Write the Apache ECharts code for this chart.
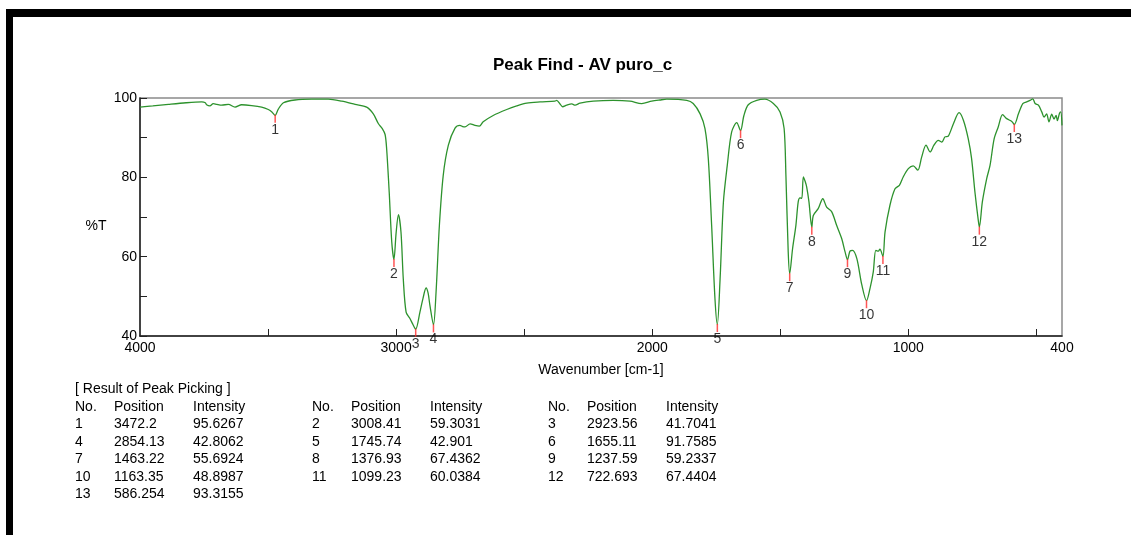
<!DOCTYPE html>
<head>
    <meta charset="utf-8">
    <title>Peak Find</title>
    <style>
        body { margin: 0; background: #fff; }
        #chart { width: 1131px; height: 535px; }
    </style>
</head>
<body>
    <div id="chart"></div>
    <script src="https://cdn.jsdelivr.net/npm/echarts@6/dist/echarts.min.js"></script>
    <script>
        // spectrum (wavenumber cm-1 / %T)
        var wavenumber = [4000, 3950, 3889, 3820, 3759, 3745, 3740, 3727, 3714, 3700, 3681, 3655, 3629, 3603, 3564, 3525, 3499, 3485, 3472.2, 3460, 3440, 3395, 3330, 3265, 3212, 3160, 3115, 3089, 3069, 3054, 3043, 3037, 3027, 3017, 3008.41, 3000, 2991, 2981, 2972, 2961, 2946, 2935, 2923.56, 2907, 2895, 2883, 2875, 2868, 2854.13, 2844, 2831, 2816, 2796, 2770, 2751, 2740, 2731, 2711, 2692, 2675, 2660, 2621, 2568, 2529, 2490, 2438, 2380, 2373, 2360, 2350, 2334, 2314, 2301, 2282, 2230, 2152, 2087, 2041, 2002, 1970, 1943, 1865, 1840, 1813, 1794, 1781, 1768, 1755, 1745.74, 1735, 1722, 1707, 1690, 1670, 1655.11, 1642, 1625, 1592, 1560, 1527, 1501, 1485, 1478, 1469, 1463.22, 1452, 1439, 1430, 1423, 1416, 1410, 1403, 1397, 1388, 1376.93, 1371, 1352, 1334, 1319, 1299, 1280, 1260, 1247, 1237.59, 1228, 1218, 1201, 1182, 1163.35, 1150, 1137, 1127, 1117, 1111, 1099.23, 1091, 1072, 1052, 1035, 1020, 1000, 981, 963, 948, 931, 915, 900, 883, 869, 857, 844, 824, 802, 785, 766, 753, 740, 727, 722.693, 711, 694, 681, 665, 649, 632, 616, 596, 586.254, 570, 553, 538, 525, 514, 505, 492, 479, 470, 460, 451, 440, 431, 423, 418, 410, 405, 400];
        var transmittance = [97.7, 98.0, 98.4, 98.8, 99.0, 98.8, 98.3, 98.0, 98.6, 98.4, 98.2, 98.4, 97.7, 98.3, 98.1, 97.7, 97.1, 96.5, 95.63, 97.2, 98.8, 99.5, 99.7, 99.7, 99.2, 98.4, 97.7, 96.0, 93.5, 92.3, 90.8, 87.2, 76.3, 63.7, 59.30, 66.0, 70.6, 66.2, 54.4, 46.0, 44.4, 43.0, 41.70, 46.0, 49.5, 52.1, 50.8, 47.7, 42.81, 51.1, 67.9, 80.5, 88.1, 92.4, 93.1, 92.8, 92.7, 93.5, 93.1, 92.9, 94.0, 95.6, 97.1, 98.0, 98.7, 99.0, 99.2, 99.4, 98.5, 97.8, 98.2, 98.5, 98.2, 98.7, 99.2, 99.4, 99.2, 98.6, 99.2, 99.5, 99.7, 99.4, 98.6, 96.0, 92.3, 84.7, 67.9, 49.4, 42.90, 54.4, 73.8, 83.0, 91.4, 93.8, 91.76, 95.6, 98.3, 99.4, 99.7, 98.6, 96.5, 92.3, 80.5, 61.2, 55.69, 62.0, 67.9, 73.8, 74.8, 74.7, 80.1, 79.0, 77.6, 73.8, 67.44, 70.4, 72.1, 74.6, 72.5, 71.3, 67.9, 64.5, 61.2, 59.23, 61.4, 61.6, 59.5, 53.0, 48.90, 51.9, 56.1, 61.6, 61.4, 61.9, 60.04, 66.2, 72.9, 77.1, 78.0, 80.1, 82.2, 82.9, 81.8, 85.1, 88.1, 86.4, 88.1, 89.3, 88.9, 90.2, 90.4, 93.5, 96.3, 94.4, 89.7, 84.7, 76.3, 69.2, 67.44, 73.8, 79.7, 83.0, 89.7, 92.7, 95.8, 94.8, 94.1, 93.32, 96.0, 98.6, 99.0, 99.4, 99.8, 98.6, 98.2, 96.5, 95.2, 96.0, 94.0, 95.9, 94.7, 95.6, 94.3, 96.1, 96.5, 93.1];

        // peak picking result
        var peakNo = [1, 2, 3, 4, 5, 6, 7, 8, 9, 10, 11, 12, 13];
        var peakPos = [3472.2, 3008.41, 2923.56, 2854.13, 1745.74, 1655.11, 1463.22, 1376.93, 1237.59, 1163.35, 1099.23, 722.693, 586.254];
        var peakInt = [95.6267, 59.3031, 41.7041, 42.8062, 42.901, 91.7585, 55.6924, 67.4362, 59.2337, 48.8987, 60.0384, 67.4404, 93.3155];

        var xLabels = [4000, 3000, 2000, 1000, 400];
        var xTicks = [3500, 3000, 2500, 2000, 1500, 1000, 500];
        var yLabels = [40, 60, 80, 100];

        var chart = echarts.init(document.getElementById('chart'));

        var lineData = wavenumber.map(function (w, i) { return [w, transmittance[i]]; });
        var peakData = peakNo.map(function (n, i) { return [peakPos[i], peakInt[i], n]; });

        var font = '"Liberation Sans", Arial, sans-serif';
        var txt = '14px ' + font;

        // frame bars, %T label and the peak table below the chart
        var graphics = [
            { type: 'rect', shape: { x: 6, y: 9, width: 1125, height: 8 }, style: { fill: '#000' }, silent: true },
            { type: 'rect', shape: { x: 6, y: 9, width: 7, height: 526 }, style: { fill: '#000' }, silent: true },
            { type: 'text', x: 96, y: 226, style: { text: '%T', font: txt, fill: '#000', align: 'center', verticalAlign: 'middle' } },
            { type: 'text', x: 75, y: 389, style: { text: '[ Result of Peak Picking ]', font: txt, fill: '#000', verticalAlign: 'middle' } }
        ];
        var groupX = [75, 312, 548];
        var rowY0 = 424.5, rowH = 17.5;
        groupX.forEach(function (gx) {
            [['No.', 0], ['Position', 39], ['Intensity', 118]].forEach(function (h) {
                graphics.push({ type: 'text', x: gx + h[1], y: 407, style: { text: h[0], font: txt, fill: '#000', verticalAlign: 'middle' } });
            });
        });
        peakNo.forEach(function (n, i) {
            var gx = groupX[i % 3];
            var y = rowY0 + Math.floor(i / 3) * rowH;
            graphics.push({ type: 'text', x: gx, y: y, style: { text: String(n), font: txt, fill: '#000', verticalAlign: 'middle' } });
            graphics.push({ type: 'text', x: gx + 39, y: y, style: { text: String(peakPos[i]), font: txt, fill: '#000', verticalAlign: 'middle' } });
            graphics.push({ type: 'text', x: gx + 118, y: y, style: { text: String(peakInt[i]), font: txt, fill: '#000', verticalAlign: 'middle' } });
        });

        var option = {
            animation: false,
            backgroundColor: '#fff',
            title: {
                text: 'Peak Find - AV puro_c',
                left: 488,
                top: 52,
                textStyle: { fontFamily: font, fontSize: 17, fontWeight: 'bold', color: '#000' }
            },
            grid: {
                left: 140, right: 69, top: 98, bottom: 199,
                show: true, borderColor: '#8a8a8a', borderWidth: 1.5
            },
            xAxis: {
                type: 'value',
                inverse: true,
                min: 400,
                max: 4000,
                name: 'Wavenumber [cm-1]',
                nameLocation: 'middle',
                nameGap: 27,
                nameTextStyle: { fontFamily: font, fontSize: 14, color: '#000' },
                axisLine: { lineStyle: { color: '#222', width: 1.5 } },
                axisTick: { inside: true, length: 7, customValues: xTicks, lineStyle: { color: '#222' } },
                axisLabel: {
                    customValues: xLabels, margin: 5, fontFamily: font, fontSize: 14, color: '#000',
                    formatter: function (v) { return String(v); }
                },
                splitLine: { show: false }
            },
            yAxis: {
                type: 'value',
                min: 40,
                max: 100,
                interval: 10,
                axisLine: { show: true, lineStyle: { color: '#222', width: 1.5 } },
                axisTick: { show: true, inside: true, length: 7, lineStyle: { color: '#222' } },
                axisLabel: {
                    customValues: yLabels, margin: 3, fontFamily: font, fontSize: 14, color: '#000',
                    formatter: function (v) { return String(v); }
                },
                splitLine: { show: false }
            },
            series: [
                {
                    type: 'line',
                    data: lineData,
                    showSymbol: false,
                    smooth: 0.3,
                    lineStyle: { color: '#2d922d', width: 1.3 },
                    z: 2
                },
                {
                    type: 'scatter',
                    data: peakData,
                    symbol: 'rect',
                    symbolSize: [1.5, 8],
                    symbolOffset: [0, 3.5],
                    itemStyle: { color: '#ff2a2a' },
                    label: {
                        show: true,
                        position: 'bottom',
                        distance: 0,
                        formatter: function (p) { return p.value[2]; },
                        fontFamily: font,
                        fontSize: 14,
                        color: '#000'
                    },
                    z: 3
                }
            ],
            graphic: graphics
        };
        chart.setOption(option);
    </script>
</body>
